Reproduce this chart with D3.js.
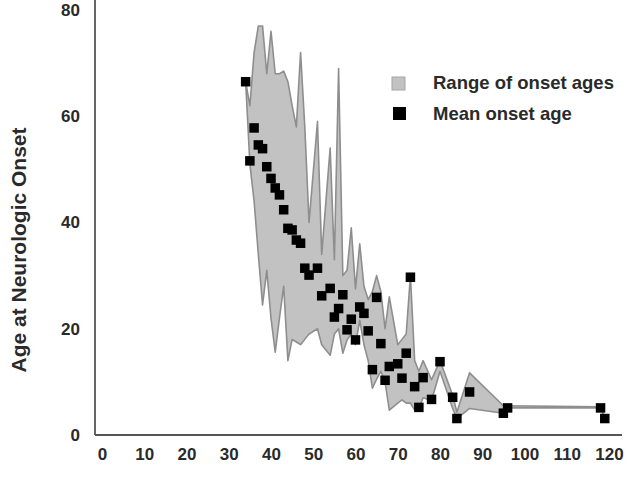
<!DOCTYPE html>
<html>
<head>
<meta charset="utf-8">
<script src="https://cdnjs.cloudflare.com/ajax/libs/d3/7.8.5/d3.min.js"></script>
<style>
  body { margin: 0; background: #fff; }
  svg { display: block; font-family: "Liberation Sans", Arial, sans-serif; }
</style>
</head>
<body>
<svg id="chart" width="627" height="478"></svg>
<script>
// repeat length on x, age at onset on y
const repeats = [34,35,36,37,38,39,40,41,42,43,44,45,46,47,48,49,51,52,54,55,56,57,58,59,60,61,62,63,64,65,66,67,68,70,71,72,73,74,75,76,78,80,83,84,87,95,96,118,119];
const meanAge = [66.5,51.6,57.8,54.6,53.9,50.5,48.3,46.5,45.2,42.4,38.9,38.6,36.7,36.1,31.4,30.1,31.4,26.2,27.6,22.2,23.8,26.4,19.8,21.8,17.9,24.1,22.9,19.6,12.3,25.9,17.2,10.3,12.9,13.4,10.7,15.4,29.7,9.1,5.2,10.8,6.7,13.8,7.1,3.1,8.1,4.1,5.1,5.1,3.1];
const maxAge  = [66.5,62,72,77,77,68,76,68,68,68.5,66.5,62,58,72,58,40,59,34,54,33,69,30,31,39,27.5,36,28,25.5,27,30,27,20,26,17,18,19,30,14,12,14,10.4,14,7.5,4.3,11.7,5.5,5.5,5.3,3.1];
const minAge  = [66.5,51,44,34,24.5,31,22,15.6,22,28,14,18,17.5,17,18,19,20,17,15,19,20,15.4,17.9,19,17,21.6,17,14,8.8,10.5,12,10,4.7,6,6.6,6,6,4.7,5,7,6.5,12,5,3.1,5,4.1,5.1,5.1,3.1];

const xTicks = [0,10,20,30,40,50,60,70,80,90,100,110,120];
const yTicks = [0,20,40,60,80];
const legendLabels = ["Range of onset ages", "Mean onset age"];

const rows = repeats.map((r, i) => ({ r: r, mean: meanAge[i], lo: minAge[i], hi: maxAge[i] }));

const svg = d3.select("#chart");

const x = d3.scaleLinear().domain([0, 120]).range([102, 609]);
const y = d3.scaleLinear().domain([0, 80]).range([435, 10]);

// range band
const band = d3.area()
  .x(d => x(d.r))
  .y0(d => y(d.lo))
  .y1(d => y(d.hi));

svg.append("path")
  .datum(rows)
  .attr("d", band)
  .attr("fill", "#c2c2c2")
  .attr("stroke", "#8e8e8e")
  .attr("stroke-width", 1.6)
  .attr("stroke-linejoin", "round");

// mean points
const sq = 9.5;
svg.append("g")
  .selectAll("rect")
  .data(rows)
  .join("rect")
  .attr("x", d => x(d.r) - sq / 2)
  .attr("y", d => y(d.mean) - sq / 2)
  .attr("width", sq)
  .attr("height", sq)
  .attr("fill", "#000");

// axes lines
svg.append("line")
  .attr("x1", 95).attr("x2", 95)
  .attr("y1", 0).attr("y2", 435)
  .attr("stroke", "#555").attr("stroke-width", 1.8);
svg.append("line")
  .attr("x1", 95).attr("x2", 622)
  .attr("y1", 435).attr("y2", 435)
  .attr("stroke", "#555").attr("stroke-width", 1.8);

const xAxis = svg.append("g")
  .attr("transform", "translate(0,435)")
  .call(d3.axisBottom(x).tickValues(xTicks).tickSize(0).tickPadding(13));
const yAxis = svg.append("g")
  .attr("transform", "translate(95,0)")
  .call(d3.axisLeft(y).tickValues(yTicks).tickSize(0).tickPadding(15));

[xAxis, yAxis].forEach(g => {
  g.select(".domain").remove();
  g.selectAll("text")
    .attr("font-family", "Liberation Sans, Arial, sans-serif")
    .attr("font-size", 17)
    .attr("font-weight", "bold")
    .attr("fill", "#2a2a2a");
});

// y title
svg.append("text")
  .attr("transform", "translate(26,250) rotate(-90)")
  .attr("text-anchor", "middle")
  .attr("font-size", 21)
  .attr("font-weight", "bold")
  .attr("fill", "#2a2a2a")
  .text("Age at Neurologic Onset");

// legend
const legend = svg.append("g");
legend.append("rect")
  .attr("x", 392).attr("y", 77).attr("width", 13).attr("height", 13)
  .attr("fill", "#c2c2c2").attr("stroke", "#a6a6a6").attr("stroke-width", 1);
legend.append("rect")
  .attr("x", 393).attr("y", 107).attr("width", 13).attr("height", 13)
  .attr("fill", "#000");
legend.selectAll("text")
  .data(legendLabels)
  .join("text")
  .attr("x", 433)
  .attr("y", (d, i) => 89 + i * 31)
  .attr("font-size", 18.5)
  .attr("font-weight", "bold")
  .attr("fill", "#2a2a2a")
  .text(d => d);
</script>
</body>
</html>
